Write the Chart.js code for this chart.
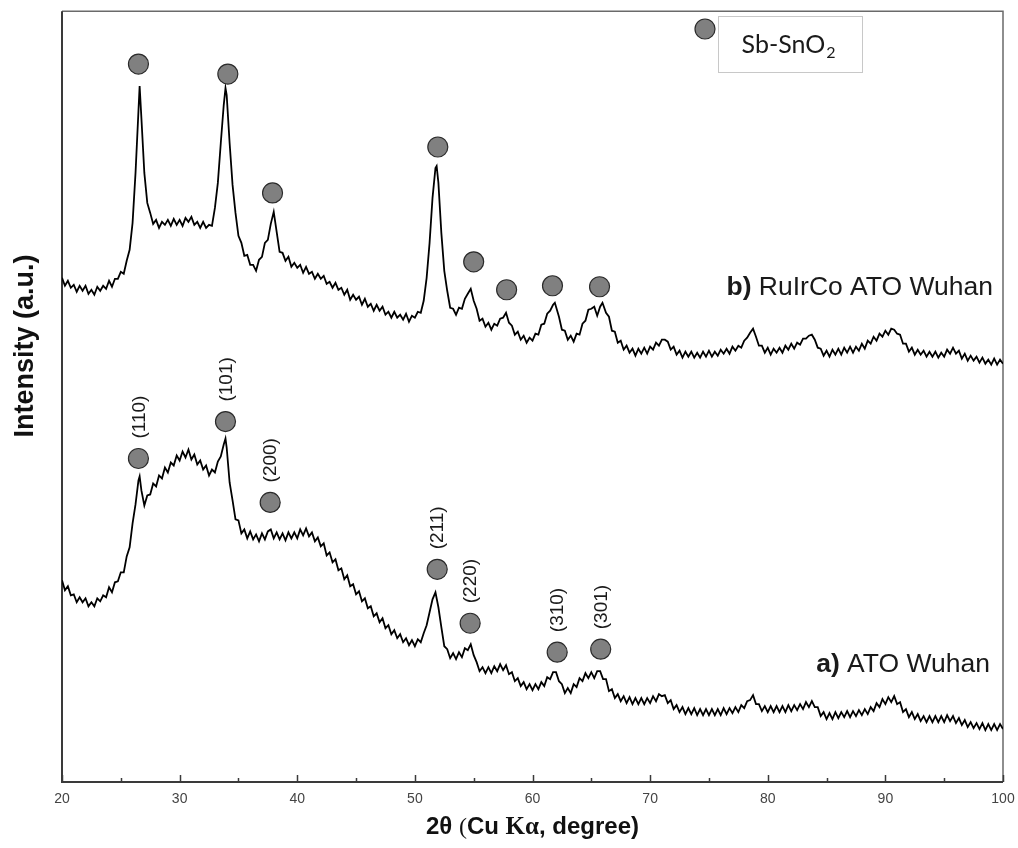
<!DOCTYPE html>
<html>
<head>
<meta charset="utf-8">
<script src="https://cdn.jsdelivr.net/npm/chart.js@4.4.1/dist/chart.umd.min.js"></script>
<style>
  html, body { margin: 0; padding: 0; background: #fff; }
  #grafico { display: block; }
</style>
</head>
<body>
<canvas id="grafico" width="1018" height="848"></canvas>
<script>
// Difractogramas: 2θ en grados, intensidad en unidades arbitrarias (paso 0.25°)
// b) RuIrCo ATO Wuhan
const twoThetaB = [
  20,20.25,20.5,20.75, 21,21.25,21.5,21.75, 22,22.25,22.5,22.75, 23,23.25,23.5,23.75,
  24,24.25,24.5,24.75, 25,25.25,25.5,25.75, 26,26.25,26.5,26.6,26.75, 27,27.25,27.5,27.75,
  28,28.25,28.5,28.75, 29,29.25,29.5,29.75, 30,30.25,30.5,30.75, 31,31.25,31.5,31.75,
  32,32.25,32.5,32.75, 33,33.25,33.5,33.75,33.9, 34,34.25,34.5,34.75, 35,35.25,35.5,35.75,
  36,36.25,36.5,36.75, 37,37.25,37.5,37.75, 38,38.25,38.5,38.75, 39,39.25,39.5,39.75,
  40,40.25,40.5,40.75, 41,41.25,41.5,41.75, 42,42.25,42.5,42.75, 43,43.25,43.5,43.75,
  44,44.25,44.5,44.75, 45,45.25,45.5,45.75, 46,46.25,46.5,46.75, 47,47.25,47.5,47.75,
  48,48.25,48.5,48.75, 49,49.25,49.5,49.75, 50,50.25,50.5,50.75, 51,51.25,51.5,51.75,51.85,
  52,52.25,52.5,52.75, 53,53.25,53.5,53.75, 54,54.25,54.5,54.75, 55,55.25,55.5,55.75,
  56,56.25,56.5,56.75, 57,57.25,57.5,57.75, 58,58.25,58.5,58.75, 59,59.25,59.5,59.75,
  60,60.25,60.5,60.75, 61,61.25,61.5,61.75,61.9, 62,62.25,62.5,62.75, 63,63.25,63.5,63.75,
  64,64.25,64.5,64.75, 65,65.25,65.5,65.75,65.95, 66.25,66.5,66.75, 67,67.25,67.5,67.75,
  68,68.25,68.5,68.75, 69,69.25,69.5,69.75, 70,70.25,70.5,70.75, 71,71.25,71.5,71.75,
  72,72.25,72.5,72.75, 73,73.25,73.5,73.75, 74,74.25,74.5,74.75, 75,75.25,75.5,75.75,
  76,76.25,76.5,76.75, 77,77.25,77.5,77.75, 78,78.25,78.5,78.75, 79,79.25,79.5,79.75,
  80,80.25,80.5,80.75, 81,81.25,81.5,81.75, 82,82.25,82.5,82.75, 83,83.25,83.5,83.75,
  84,84.25,84.5,84.75, 85,85.25,85.5,85.75, 86,86.25,86.5,86.75, 87,87.25,87.5,87.75,
  88,88.25,88.5,88.75, 89,89.25,89.5,89.75, 90,90.25,90.5,90.75, 91,91.25,91.5,91.75,
  92,92.25,92.5,92.75, 93,93.25,93.5,93.75, 94,94.25,94.5,94.75, 95,95.25,95.5,95.75,
  96,96.25,96.5,96.75, 97,97.25,97.5,97.75, 98,98.25,98.5,98.75, 99,99.25,99.5,99.75,
  100
];
const intensityB = [
  505,497,502,495, 498,491,497,492, 497,489,493,488, 496,492,497,494,
  502,496,504,504, 511,509,522,533, 560,610,672,697,665, 610,580,570,559,
  563,555,561,558, 563,557,564,558, 563,557,565,561, 566,558,561,555,
  561,555,558,557, 575,600,640,678,695, 688,640,598,570, 547,540,527,528,
  518,518,512,523, 526,540,543,559, 571,551,531,530, 522,526,516,520,
  515,518,510,516, 509,511,504,509, 504,507,499,501, 495,500,493,495,
  488,493,483,488, 483,486,478,484, 476,479,472,478, 472,476,468,471,
  465,471,465,468, 463,469,461,467, 465,471,470,482, 505,540,585,615,617,
  600,550,512,492, 475,474,468,475, 474,484,489,494, 482,474,462,464,
  456,460,453,459, 457,464,465,470, 460,457,448,451, 443,447,440,445,
  442,449,448,458, 459,469,472,478,480, 476,466,453,452, 443,447,441,449,
  448,459,462,473, 474,476,467,476,480, 470,466,452, 451,440,442,433,
  437,430,434,427, 434,429,435,429, 436,433,440,437, 443,443,441,433,
  436,428,432,425, 431,426,431,425, 430,425,431,426, 432,426,431,427,
  433,429,434,429, 436,432,437,435, 442,445,450,454, 446,437,437,430,
  435,428,434,430, 435,430,437,433, 439,434,440,438, 444,444,447,448,
  443,435,434,427, 432,426,433,428, 434,428,435,430, 436,430,436,432,
  439,434,442,439, 446,442,449,446, 452,448,454,453, 449,448,439,439,
  431,435,428,433, 428,432,426,431, 426,431,425,430, 426,433,429,435,
  429,432,424,429, 422,427,422,426, 420,425,419,423, 418,424,418,423,
  419
];

// a) ATO Wuhan
const twoThetaA = [
  20,20.25,20.5,20.75, 21,21.25,21.5,21.75, 22,22.25,22.5,22.75, 23,23.25,23.5,23.75,
  24,24.25,24.5,24.75, 25,25.25,25.5,25.75, 26,26.25,26.5,26.6,26.75, 27,27.25,27.5,27.75,
  28,28.25,28.5,28.75, 29,29.25,29.5,29.75, 30,30.25,30.5,30.75, 31,31.25,31.5,31.75,
  32,32.25,32.5,32.75, 33,33.25,33.5,33.75,33.9, 34,34.25,34.5,34.75, 35,35.25,35.5,35.75,
  36,36.25,36.5,36.75, 37,37.25,37.5,37.75, 38,38.25,38.5,38.75, 39,39.25,39.5,39.75,
  40,40.25,40.5,40.75, 41,41.25,41.5,41.75, 42,42.25,42.5,42.75, 43,43.25,43.5,43.75,
  44,44.25,44.5,44.75, 45,45.25,45.5,45.75, 46,46.25,46.5,46.75, 47,47.25,47.5,47.75,
  48,48.25,48.5,48.75, 49,49.25,49.5,49.75, 50,50.25,50.5,50.75, 51,51.25,51.5,51.75,
  52,52.25,52.5,52.75, 53,53.25,53.5,53.75, 54,54.25,54.5,54.75, 55,55.25,55.5,55.75,
  56,56.25,56.5,56.75, 57,57.25,57.5,57.75, 58,58.25,58.5,58.75, 59,59.25,59.5,59.75,
  60,60.25,60.5,60.75, 61,61.25,61.5,61.75, 62,62.25,62.5,62.75, 63,63.25,63.5,63.75,
  64,64.25,64.5,64.75, 65,65.25,65.5,65.75, 66,66.25,66.5,66.75, 67,67.25,67.5,67.75,
  68,68.25,68.5,68.75, 69,69.25,69.5,69.75, 70,70.25,70.5,70.75, 71,71.25,71.5,71.75,
  72,72.25,72.5,72.75, 73,73.25,73.5,73.75, 74,74.25,74.5,74.75, 75,75.25,75.5,75.75,
  76,76.25,76.5,76.75, 77,77.25,77.5,77.75, 78,78.25,78.5,78.75, 79,79.25,79.5,79.75,
  80,80.25,80.5,80.75, 81,81.25,81.5,81.75, 82,82.25,82.5,82.75, 83,83.25,83.5,83.75,
  84,84.25,84.5,84.75, 85,85.25,85.5,85.75, 86,86.25,86.5,86.75, 87,87.25,87.5,87.75,
  88,88.25,88.5,88.75, 89,89.25,89.5,89.75, 90,90.25,90.5,90.75, 91,91.25,91.5,91.75,
  92,92.25,92.5,92.75, 93,93.25,93.5,93.75, 94,94.25,94.5,94.75, 95,95.25,95.5,95.75,
  96,96.25,96.5,96.75, 97,97.25,97.5,97.75, 98,98.25,98.5,98.75, 99,99.25,99.5,99.75,
  100
];
const intensityA = [
  202,192,196,187, 188,180,185,180, 184,176,180,176, 184,181,187,185,
  195,190,200,201, 210,210,226,235, 259,278,302,306,292, 277,287,288,299,
  296,307,304,315, 310,320,317,327, 322,331,325,333, 323,328,318,322,
  313,317,307,313, 310,321,326,338,344, 335,300,282,263, 262,249,253,244,
  251,243,248,241, 249,243,251,253, 244,250,243,249, 242,250,244,250,
  244,253,247,254, 246,250,241,245, 236,239,227,230, 220,223,212,214,
  203,207,196,198, 188,191,181,184, 174,176,166,169, 160,164,154,157,
  148,152,144,148, 140,144,137,142, 136,143,140,149, 157,170,183,190,
  175,155,136,133, 124,129,123,130, 125,134,132,138, 127,120,111,115,
  109,115,109,116, 111,118,112,117, 108,110,101,104, 96,100,93,98,
  92,98,93,100, 96,105,103,110, 110,101,98,89, 94,89,98,95,
  104,101,109,104, 110,104,111,111, 103,103,91,93, 84,88,81,86,
  79,85,78,84, 78,84,78,84, 79,86,81,88, 86,87,79,82,
  73,77,70,75, 68,74,68,74, 67,73,67,73, 67,73,67,73,
  67,74,68,74, 69,75,70,77, 74,81,82,87, 78,78,71,76,
  70,76,70,76, 70,76,70,77, 71,77,72,78, 73,80,75,81,
  75,75,66,70, 63,69,63,70, 64,70,65,71, 65,71,66,72,
  67,73,68,75, 71,79,75,83, 78,85,80,86, 78,80,70,73,
  65,70,63,68, 61,66,60,66, 60,66,60,66, 60,67,61,66,
  59,64,57,62, 55,60,54,59, 53,59,52,58, 52,58,52,58,
  53
];

// Reflexiones de Sb-SnO2 marcadas con círculos
const peakThetaB = [26.5, 34.1, 37.9, 51.95, 55.0, 57.8, 61.7, 65.7];
const peakIntensityB = [719, 709, 590, 636, 521, 493, 497, 496];
const peakThetaA = [26.5, 33.9, 37.7, 51.9, 54.7, 62.1, 65.8];
const peakIntensityA = [324, 361, 280, 213, 159, 130, 133];
const hklLabels = ['(110)', '(101)', '(200)', '(211)', '(220)', '(310)', '(301)'];

const xTicks = [20, 30, 40, 50, 60, 70, 80, 90, 100];
const xMinorTicks = [25, 35, 45, 55, 65, 75, 85, 95];

const SANS = '"Liberation Sans", Arial, sans-serif';
const SERIF = '"Liberation Serif", "Times New Roman", serif';

function puntos(xs, ys) {
    return xs.map((v, i) => ({ x: v, y: ys[i] }));
}

function circulo(ctx, x, y, r) {
    ctx.beginPath();
    ctx.arc(x, y, r, 0, Math.PI * 2);
    ctx.fillStyle = '#808080';
    ctx.fill();
    ctx.lineWidth = 1.2;
    ctx.strokeStyle = '#2b2b2b';
    ctx.stroke();
}

// texto en trozos con fuentes distintas, desde x hacia la derecha
function textoPartes(ctx, partes, x, y) {
    let cx = x;
    partes.forEach(p => {
        ctx.font = p.font;
        ctx.fillText(p.t, cx, y);
        cx += ctx.measureText(p.t).width;
    });
    return cx - x;
}

function anchoPartes(ctx, partes) {
    let w = 0;
    partes.forEach(p => { ctx.font = p.font; w += ctx.measureText(p.t).width; });
    return w;
}

const anotaciones = {
    id: 'anotaciones',
    beforeDatasetsDraw(chart) {
        const ctx = chart.ctx;
        const a = chart.chartArea;
        const sx = chart.scales.x;
        ctx.save();
        // marco
        ctx.strokeStyle = '#6a6a6a';
        ctx.lineWidth = 1.5;
        ctx.beginPath();
        ctx.moveTo(a.left, a.top); ctx.lineTo(a.right, a.top); ctx.lineTo(a.right, a.bottom);
        ctx.stroke();
        ctx.strokeStyle = '#3a3a3a';
        ctx.lineWidth = 2;
        ctx.beginPath();
        ctx.moveTo(a.left, a.top); ctx.lineTo(a.left, a.bottom); ctx.lineTo(a.right, a.bottom);
        ctx.stroke();
        // marcas del eje x hacia dentro
        ctx.lineWidth = 1.5;
        xTicks.forEach(v => {
            const px = Math.round(sx.getPixelForValue(v)) + 0.5;
            ctx.beginPath(); ctx.moveTo(px, a.bottom); ctx.lineTo(px, a.bottom - 7); ctx.stroke();
        });
        xMinorTicks.forEach(v => {
            const px = Math.round(sx.getPixelForValue(v)) + 0.5;
            ctx.beginPath(); ctx.moveTo(px, a.bottom); ctx.lineTo(px, a.bottom - 4); ctx.stroke();
        });
        ctx.restore();
    },
    afterDatasetsDraw(chart) {
        const ctx = chart.ctx;
        const a = chart.chartArea;
        const sx = chart.scales.x, sy = chart.scales.y;
        ctx.save();
        ctx.fillStyle = '#1a1a1a';

        // índices de Miller, girados 90°
        ctx.font = '19px ' + SANS;
        ctx.textAlign = 'left';
        ctx.textBaseline = 'middle';
        hklLabels.forEach((t, i) => {
            const px = sx.getPixelForValue(peakThetaA[i]);
            const py = sy.getPixelForValue(peakIntensityA[i]);
            ctx.save();
            ctx.translate(px + 1, py - 20);
            ctx.rotate(-Math.PI / 2);
            ctx.fillText(t, 0, 0);
            ctx.restore();
        });

        // nombres de las muestras
        ctx.textBaseline = 'alphabetic';
        const etiquetaB = [
            { t: 'b)', font: 'bold 26.5px ' + SANS },
            { t: ' RuIrCo ATO Wuhan', font: '26.5px ' + SANS }
        ];
        const etiquetaA = [
            { t: 'a)', font: 'bold 26.5px ' + SANS },
            { t: ' ATO Wuhan', font: '26.5px ' + SANS }
        ];
        textoPartes(ctx, etiquetaB, a.right - 10 - anchoPartes(ctx, etiquetaB), 295);
        textoPartes(ctx, etiquetaA, a.right - 13 - anchoPartes(ctx, etiquetaA), 672);

        // leyenda
        circulo(ctx, 705, 29, 10);
        ctx.strokeStyle = '#c8c8c8';
        ctx.lineWidth = 1;
        ctx.strokeRect(718.5, 16.5, 144, 56);
        ctx.fillStyle = '#1a1a1a';
        const fLeyenda = '25px Lato, "Open Sans", sans-serif';
        const fSub = '16px Lato, "Open Sans", sans-serif';
        ctx.font = fLeyenda;
        const wMain = ctx.measureText('Sb-SnO').width;
        ctx.font = fSub;
        const wSub = ctx.measureText('2').width;
        const x0 = 788 - (wMain + wSub) / 2;
        ctx.font = fLeyenda;
        ctx.fillText('Sb-SnO', x0, 53);
        ctx.font = fSub;
        ctx.fillText('2', x0 + wMain + 1, 58);

        // títulos de los ejes
        ctx.fillStyle = '#111';
        const tituloX = [
            { t: '2θ ', font: 'bold 24px ' + SANS },
            { t: '(', font: '24px ' + SERIF },
            { t: 'Cu ', font: 'bold 24px ' + SANS },
            { t: 'Kα', font: 'bold 25px ' + SERIF },
            { t: ', degree)', font: 'bold 24px ' + SANS }
        ];
        const cx = (a.left + a.right) / 2;
        textoPartes(ctx, tituloX, cx - anchoPartes(ctx, tituloX) / 2, 834);

        ctx.save();
        ctx.translate(33, 346);
        ctx.rotate(-Math.PI / 2);
        ctx.textAlign = 'center';
        ctx.font = 'bold 27px ' + SANS;
        ctx.fillText('Intensity (a.u.)', 0, 0);
        ctx.restore();

        ctx.restore();
    }
};

const marcador = {
    pointRadius: 10,
    pointHoverRadius: 10,
    pointBackgroundColor: '#808080',
    pointBorderColor: '#2b2b2b',
    pointBorderWidth: 1.2,
    showLine: false
};

const traza = {
    borderColor: '#000',
    borderWidth: 1.8,
    pointRadius: 0,
    showLine: true,
    tension: 0,
    fill: false
};

new Chart(document.getElementById('grafico'), {
    type: 'scatter',
    data: {
        datasets: [
            Object.assign({ label: 'Sb-SnO2 (b)', data: puntos(peakThetaB, peakIntensityB) }, marcador),
            Object.assign({ label: 'Sb-SnO2 (a)', data: puntos(peakThetaA, peakIntensityA) }, marcador),
            Object.assign({ label: 'b) RuIrCo ATO Wuhan', data: puntos(twoThetaB, intensityB) }, traza),
            Object.assign({ label: 'a) ATO Wuhan', data: puntos(twoThetaA, intensityA) }, traza)
        ]
    },
    plugins: [anotaciones],
    options: {
        responsive: false,
        animation: false,
        layout: { padding: { left: 62, right: 15, top: 10, bottom: 0 } },
        plugins: {
            legend: { display: false },
            tooltip: { enabled: false }
        },
        scales: {
            x: {
                type: 'linear',
                min: 20,
                max: 100,
                afterFit: function (scale) {
                    scale.height = 66;
                    scale.paddingLeft = 0;
                    scale.paddingRight = 0;
                },
                afterBuildTicks: function (scale) {
                    scale.ticks = xTicks.map(v => ({ value: v }));
                },
                grid: { display: false, drawTicks: false },
                border: { display: false },
                ticks: {
                    padding: 9,
                    color: '#444',
                    font: { family: SANS, size: 14 }
                }
            },
            y: {
                type: 'linear',
                min: 0,
                max: 772,
                display: false
            }
        }
    }
});
</script>
</body>
</html>
